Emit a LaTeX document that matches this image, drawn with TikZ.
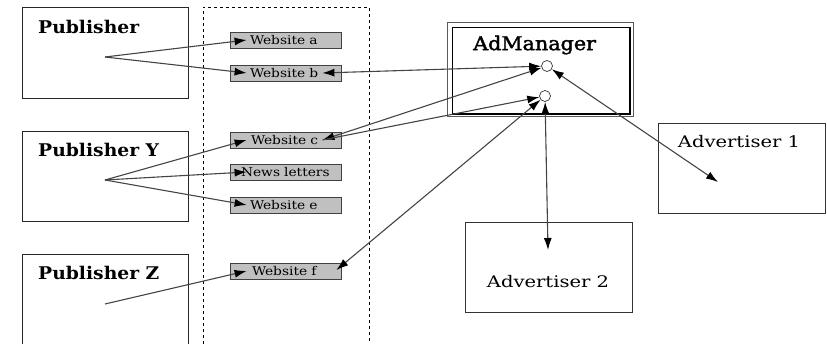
\documentclass[tikz,border=0pt]{standalone}
\usepackage{fontspec}
\setmainfont{DejaVu Serif}
\newfontfamily\sitefont{DejaVu Serif}[FakeStretch=1.15]
\newfontfamily\advfont{DejaVu Serif}[FakeStretch=1.22]
\newfontfamily\admfont{DejaVu Serif}[FakeStretch=1.09,FakeBold=2]
\newfontfamily\pubfont{DejaVu Serif Bold}[FakeStretch=1.07]
\usetikzlibrary{arrows.meta,calc}
\definecolor{linegray}{HTML}{444444}
\definecolor{sitefill}{HTML}{C0C0C0}
\tikzset{
  x=1pt,y=-1pt,
  pubbox/.style={draw=black!85,line width=0.9pt,anchor=north west,minimum width=166pt,inner sep=0pt},
  advbox/.style={draw=black!80,line width=0.8pt,anchor=north west,minimum width=167pt,minimum height=90pt,inner sep=0pt},
  sitebox/.style={draw=black!75,fill=sitefill,line width=0.8pt,minimum height=16pt,inner sep=0pt,
    text width=111pt,align=left,font=\sitefont\fontsize{12}{14}\selectfont},
  pubtitle/.style={anchor=west,inner sep=0pt,font=\pubfont\fontsize{17.5}{20}\selectfont},
  advtitle/.style={inner sep=0pt,font=\advfont\fontsize{16}{18}\selectfont},
  port/.style={circle,draw=black!80,fill=white,line width=0.7pt,minimum size=11pt,inner sep=0pt},
  wire/.style={draw=linegray,line width=1.1pt},
  arr/.style={wire,-{Latex[length=12pt,width=8pt,black]}},
  darr/.style={wire,{Latex[length=12pt,width=8pt,black]}-{Latex[length=12pt,width=8pt,black]}},
}
\begin{document}
\begin{tikzpicture}
\useasboundingbox (0,0) rectangle (827,344);

% publishers
\node[pubbox,minimum height=91pt] (pub) at (22,7) {};
\node[pubtitle] (pubt) at (38,27) {Publisher};
\node[pubbox,minimum height=90pt] (puby) at (22,131) {};
\node[pubtitle] (pubyt) at (38,150) {Publisher Y};
\node[pubbox,minimum height=100pt] (pubz) at (22,254) {};
\node[pubtitle] (pubzt) at (38,273) {Publisher Z};

% dashed area holding the sites
\draw[dashed,line width=0.8pt] (203,350) -- (203,7) -- (369,7) -- (369,350);

% sites
\node[sitebox] (wa) at (285.5,40) {\hspace*{20pt}Website a};
\node[sitebox] (wb) at (285.5,73) {\hspace*{20pt}Website b};
\node[sitebox] (wc) at (285.5,140) {\hspace*{21pt}Website c};
\node[sitebox] (wn) at (285.5,172) {\hspace*{11pt}News letters};
\node[sitebox] (we) at (285.5,205) {\hspace*{20pt}Website e};
\node[sitebox] (wf) at (285.5,271) {\hspace*{22pt}Website f};

% ad manager: thin outer frame, inner frame heavier on the right and bottom
\draw[draw=black!65,line width=0.8pt] (447,22) rectangle (633,116);
\node[draw=black,line width=1pt,anchor=north west,minimum width=177pt,minimum height=86pt,inner sep=0pt] (adm) at (452,27) {};
\draw[line width=1.6pt] (adm.north east) -- (adm.south east) -- (adm.south west);
\node[anchor=west,inner sep=0pt,font=\admfont\fontsize{19}{22}\selectfont] (admt) at (473,45) {AdManager};
\node[port] (c1) at (547,66) {};
\node[port] (c2) at (545,96) {};

% advertisers
\node[advbox] (ad1) at (658,123) {};
\node[advtitle] (ad1t) at (739,142) {Advertiser 1};
\node[advbox] (ad2) at (465,222) {};
\node[advtitle] (ad2t) at (548,282) {Advertiser 2};

% fan-out points inside the publisher boxes, free arrow ends in the advertisers
\coordinate (fp) at (105,57);
\coordinate (fy) at (105,180);
\coordinate (fz) at (105,304);
\coordinate (a1tip) at (718,182);
\coordinate (a2tip) at (548,250);

% publisher -> sites
\draw[arr] (fp) -- ([xshift=17pt]wa.west);
\draw[arr] (fp) -- ([xshift=17pt]wb.west);
\draw[arr] (fy) -- ([xshift=17pt]wc.west);
\draw[arr] (fy) -- ([xshift=17pt]wn.west);
\draw[arr] (fy) -- ([xshift=17pt]we.west);
\draw[arr] (fz) -- ([xshift=17pt]wf.west);

% sites <-> ad manager
\draw[darr] ([xshift=-19pt]wb.east) -- (c1);
\draw[darr] ([xshift=-19pt]wc.east) -- (c1);
\draw[arr] ([xshift=-19pt]wc.east) -- (c2);
\draw[darr] ([xshift=-5pt,yshift=1pt]wf.east) -- (c2);

% ad manager <-> advertisers
\draw[darr] (c1) -- (a1tip);
\draw[darr] (c2) -- (a2tip);
\end{tikzpicture}
\end{document}
